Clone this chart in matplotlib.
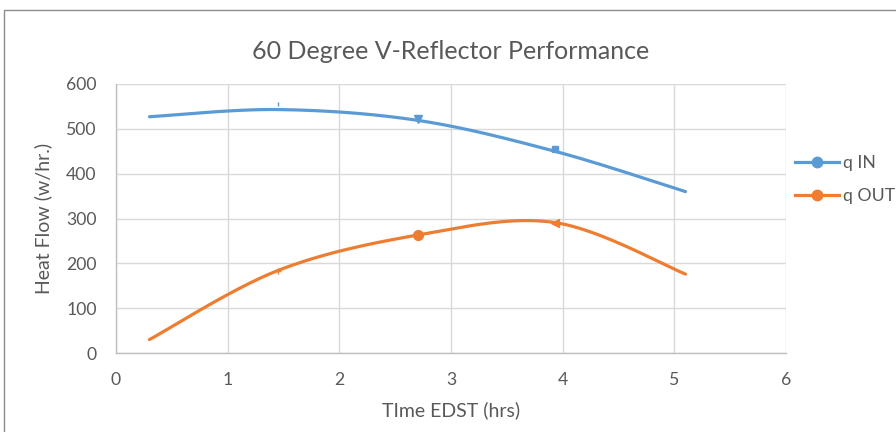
import numpy as np
import matplotlib.pyplot as plt
from matplotlib.lines import Line2D
from matplotlib.patches import Rectangle

# data
time_hrs = [0.3, 1.45, 2.7, 3.93, 5.1]
q_in = [527, 543, 519, 450, 360]
q_out = [30, 184, 263, 291, 176]

plt.rcParams['font.family'] = ['Lato', 'DejaVu Sans']


def excel_smooth(xs, ys, n=40):
    # bezier segments with catmull-rom style control points (like excel "smoothed line")
    p = np.column_stack([xs, ys]).astype(float)
    p = np.vstack([p[0], p, p[-1]])
    out = []
    for i in range(1, len(p) - 2):
        p0, p1, p2, p3 = p[i - 1], p[i], p[i + 1], p[i + 2]
        c1 = p1 + (p2 - p0) / 6
        c2 = p2 - (p3 - p1) / 6
        t = np.linspace(0, 1, n)[:, None]
        seg = (1 - t) ** 3 * p1 + 3 * (1 - t) ** 2 * t * c1 + 3 * (1 - t) * t ** 2 * c2 + t ** 3 * p2
        out.append(seg if i == 1 else seg[1:])
    out = np.vstack(out)
    return out[:, 0], out[:, 1]


blue = '#5b9bd5'
orange = '#ed7d31'
txt = '#595959'
grid = '#d9d9d9'

fig = plt.figure(figsize=(8.96, 4.32), dpi=100)
ax = fig.add_axes([116 / 896, 1 - 353 / 432, 670 / 896, 269 / 432])

sx, sy = excel_smooth(time_hrs, q_in)
ax.plot(sx, sy, color=blue, lw=2.3, solid_capstyle='round', zorder=3)
sx, sy = excel_smooth(time_hrs, q_out)
ax.plot(sx, sy, color=orange, lw=2.3, solid_capstyle='round', zorder=3)

# odd little marker remnants seen on the middle points
ax.plot(time_hrs[2], q_in[2] + 2, marker='v', ms=6, color=blue, zorder=4)
ax.plot(time_hrs[3], q_in[3] + 4, marker='s', ms=4, color=blue, zorder=4)
ax.plot(time_hrs[1], q_in[1] + 12, marker='|', ms=3, color=blue, zorder=4)
ax.plot(time_hrs[1], q_out[1], marker='+', ms=5, color=orange, zorder=4)
ax.plot(time_hrs[2], q_out[2], marker='o', ms=7, color=orange, zorder=4)
ax.plot(time_hrs[3], q_out[3], marker='<', ms=6, color=orange, zorder=4)

ax.set_xlim(0, 6)
ax.set_ylim(0, 600)
ax.set_xticks(range(0, 7))
ax.set_yticks(range(0, 601, 100))
ax.grid(True, color=grid, lw=1)
ax.set_axisbelow(True)
for s in ['top', 'right']:
    ax.spines[s].set_visible(False)
for s in ['left', 'bottom']:
    ax.spines[s].set_color('#bfbfbf')
    ax.spines[s].set_linewidth(1)
ax.tick_params(length=0, labelsize=12.7, colors=txt)
ax.tick_params(axis='y', pad=14)
ax.tick_params(axis='x', pad=14)

ax.set_title('60 Degree V-Reflector Performance', fontsize=18, color=txt, pad=18)
ax.set_xlabel('TIme EDST (hrs)', fontsize=14, color=txt, labelpad=9)
ax.set_ylabel('Heat Flow (w/hr.)', fontsize=14, color=txt, labelpad=10)

handles = [Line2D([], [], color=blue, lw=2.3, marker='o', ms=7.5),
           Line2D([], [], color=orange, lw=2.3, marker='o', ms=7.5)]
ax.legend(handles, ['q IN', 'q OUT'], loc='center left', bbox_to_anchor=(1.003, 0.645),
          frameon=False, fontsize=12.7, handlelength=2.5, handletextpad=0.2,
          labelspacing=1.0, labelcolor=txt, borderaxespad=0)

# chart outer border
fig.patches.append(Rectangle((4 / 896, -0.1), 2, 1 - 10 / 432 + 0.1, transform=fig.transFigure,
                             fill=False, edgecolor='#8c8c8c', lw=1))

fig.savefig('out.png', dpi=100)
